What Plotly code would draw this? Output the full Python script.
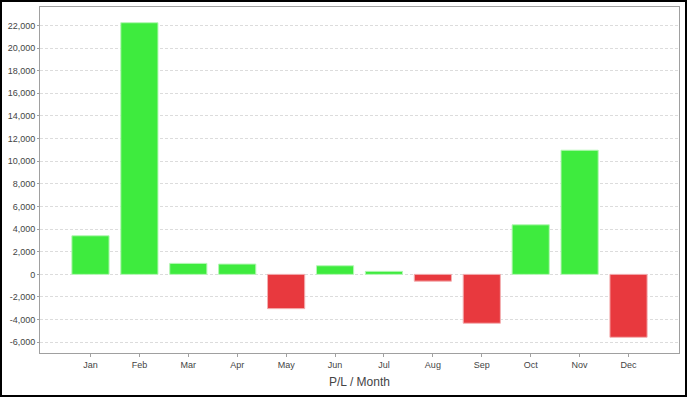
import plotly.graph_objects as go

months = ["Jan", "Feb", "Mar", "Apr", "May", "Jun", "Jul", "Aug", "Sep", "Oct", "Nov", "Dec"]
pl_values = [3410, 22240, 970, 910, -3030, 760, 265, -600, -4320, 4380, 10970, -5560]
y_ticks = [-6000, -4000, -2000, 0, 2000, 4000, 6000, 8000, 10000, 12000, 14000, 16000, 18000, 20000, 22000]
y_tick_labels = [f"{v:,}" for v in y_ticks]

GREEN = "#3eeb3e"
RED = "#e8393e"
colors = [GREEN if v >= 0 else RED for v in pl_values]
edges = ["#b4f7b4" if v >= 0 else "#f3b0b2" for v in pl_values]

span = max(pl_values) - min(pl_values)
y_range = [min(pl_values) - 0.05 * span, max(pl_values) + 0.05 * span]

fig = go.Figure(go.Bar(
    x=list(range(len(months))),
    y=pl_values,
    marker=dict(color=colors, line=dict(color=edges, width=1)),
    width=0.76,
    hoverinfo="skip",
))

W, H = 688, 398
ml, mr, mt, mb = 40, 9, 7, 45

fig.update_layout(
    template="none",
    width=W, height=H,
    margin=dict(l=ml, r=mr, t=mt, b=mb, pad=0, autoexpand=False),
    paper_bgcolor="white",
    plot_bgcolor="white",
    showlegend=False,
    font=dict(family="Liberation Sans, Arial, sans-serif", size=9, color="#444444"),
    xaxis=dict(
        automargin=False,
        range=[-1.032, len(months) - 1 + 1.032],
        tickvals=list(range(len(months))),
        ticktext=months,
        showgrid=False,
        zeroline=False,
        showline=True, mirror=True, linecolor="#a0a0a0", linewidth=1,
        ticks="outside", ticklen=3, tickcolor="#a0a0a0",
        tickfont=dict(size=9, color="#444444"),
        title=dict(text="P/L / Month", font=dict(size=12, color="#444444"), standoff=8),
    ),
    yaxis=dict(
        automargin=False,
        range=y_range,
        tickvals=y_ticks,
        ticktext=y_tick_labels,
        showgrid=True, gridcolor="#dcdcdc", griddash="3px,2px", gridwidth=1,
        zeroline=False,
        showline=True, mirror=True, linecolor="#a0a0a0", linewidth=1,
        ticks="outside", ticklen=2, tickcolor="#a0a0a0",
        tickfont=dict(size=9, color="#444444"),
    ),
)

# outer black frame of the image
pw = W - ml - mr
ph = H - mt - mb
x0 = (1 - ml) / pw
x1 = (W - 2 - ml) / pw
y0 = -(mb - 2) / ph
y1 = (H - 1 - mb) / ph
fig.add_shape(type="rect", xref="paper", yref="paper", x0=x0, x1=x1, y0=y0, y1=y1,
              line=dict(color="black", width=2), layer="above")

fig.write_html(
    "out.html",
    config={"displayModeBar": False, "staticPlot": True},
    post_script="document.body.style.margin='0';document.body.style.overflow='hidden';",
)
